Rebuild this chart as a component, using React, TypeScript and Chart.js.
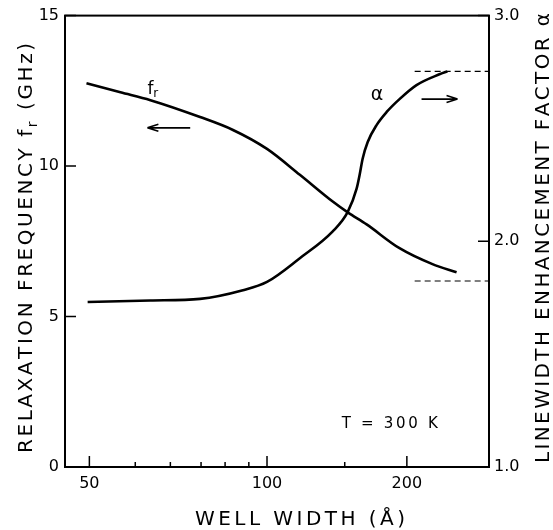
import React, { useEffect, useRef } from 'react';
import { Chart, registerables, LinearScale } from 'chart.js';

Chart.register(...registerables);

// ---- data ----
const widthFr = [49.5, 55.8, 62.3, 75.5, 86.4, 100, 116, 135.7, 146.2, 161, 192, 231.7, 268];
const freqFr = [12.75, 12.45, 12.19, 11.63, 11.2, 10.57, 9.71, 8.82, 8.46, 8.06, 7.27, 6.74, 6.47];

const widthAlpha = [49.7, 62.3, 75.5, 90.1, 100, 116, 135.7, 146.2, 152.9, 155.3, 157.7, 161.9, 169.6, 179, 192, 211.2, 241.5, 253.4];
const alphaVals = [1.731, 1.738, 1.745, 1.783, 1.82, 1.925, 2.044, 2.13, 2.233, 2.295, 2.366, 2.44, 2.515, 2.573, 2.63, 2.692, 2.74, 2.753];

const asymptoteWidths = [209, 330];
const alphaUpper = 2.753;
const alphaLower = 1.824;

const xMajorTicks = [50, 100, 200];
const xMinorTicks = [58.9, 67.2, 75.8, 83.6, 92.4, 144];
const yLeftTicks = [0, 5, 10, 15];
const yRightTicks = [1, 2, 3];

// annotation anchors (data units)
const frLabel = { x: 61.6, y: 12.39 };
const alphaLabel = { x: 170, y: 2.626 };
const leftArrow = { from: 72.6, to: 61.6, y: 11.27 };
const rightArrow = { from: 217.4, to: 269.6, y: 2.63 };
const tempLabel = { x: 182, y: 1.29, text: 'T = 300 K' };

// ---- custom power scale ----
const EXP = 0.345;
const fwd = (v: number) => -Math.pow(v, -EXP);
const inv = (t: number) => Math.pow(-t, -1 / EXP);

class PowerScale extends LinearScale {
  static id = 'power';
  static defaults = LinearScale.defaults;
  getPixelForValue(value: any) {
    if (value === null || value === undefined || isNaN(value)) return NaN;
    const a = fwd(this.min), b = fwd(this.max);
    return this.getPixelForDecimal((fwd(value) - a) / (b - a));
  }
  getValueForPixel(pixel: number) {
    const a = fwd(this.min), b = fwd(this.max);
    return inv(a + this.getDecimalForPixel(pixel) * (b - a));
  }
}
Chart.register(PowerScale as any);

const FAMILY = '"DejaVu Sans", sans-serif';
const WEIGHT = 'normal';

type Seg = { t: string; size: number; dy: number };
function drawSpaced(ctx: CanvasRenderingContext2D, segs: Seg[], cx: number, cy: number, rot: number, target: number) {
  ctx.save();
  ctx.translate(cx, cy);
  ctx.rotate(rot);
  const chars: { ch: string; w: number; size: number; dy: number }[] = [];
  let natural = 0;
  for (const s of segs) {
    ctx.font = `${WEIGHT} ${s.size}px ${FAMILY}`;
    for (const ch of Array.from(s.t)) {
      const w = ctx.measureText(ch).width;
      chars.push({ ch, w, size: s.size, dy: s.dy });
      natural += w;
    }
  }
  const sp = chars.length > 1 ? (target - natural) / (chars.length - 1) : 0;
  let x = -target / 2;
  ctx.textBaseline = 'alphabetic';
  ctx.textAlign = 'left';
  ctx.fillStyle = '#000';
  for (const c of chars) {
    ctx.font = `${WEIGHT} ${c.size}px ${FAMILY}`;
    ctx.fillText(c.ch, x, c.dy);
    x += c.w + sp;
  }
  ctx.restore();
}

function arrow(ctx: CanvasRenderingContext2D, x1: number, x2: number, y: number) {
  const dir = Math.sign(x2 - x1);
  ctx.beginPath();
  ctx.moveTo(x1, y);
  ctx.lineTo(x2, y);
  ctx.moveTo(x2, y);
  ctx.lineTo(x2 - dir * 11, y - 3.5);
  ctx.moveTo(x2, y);
  ctx.lineTo(x2 - dir * 11, y + 3.5);
  ctx.stroke();
}

const decorPlugin = {
  id: 'decor',
  afterDraw(chart: any) {
    const { ctx, chartArea: a, scales } = chart;
    const sx = scales.x, sy = scales.y, sy2 = scales.y2;
    ctx.save();
    ctx.strokeStyle = '#000';
    ctx.lineWidth = 2;
    ctx.strokeRect(a.left, a.top, a.right - a.left, a.bottom - a.top);
    ctx.lineWidth = 1.5;
    ctx.beginPath();
    for (const v of xMajorTicks) {
      const p = sx.getPixelForValue(v);
      ctx.moveTo(p, a.bottom);
      ctx.lineTo(p, a.bottom - 11);
    }
    for (const v of xMinorTicks) {
      const p = sx.getPixelForValue(v);
      ctx.moveTo(p, a.bottom);
      ctx.lineTo(p, a.bottom - 5);
    }
    for (const v of yLeftTicks) {
      const p = sy.getPixelForValue(v);
      ctx.moveTo(a.left, p);
      ctx.lineTo(a.left + 11, p);
    }
    for (const v of yRightTicks) {
      const p = sy2.getPixelForValue(v);
      ctx.moveTo(a.right, p);
      ctx.lineTo(a.right - 11, p);
    }
    ctx.stroke();

    // arrows
    ctx.lineWidth = 1.6;
    arrow(ctx, sx.getPixelForValue(leftArrow.from), sx.getPixelForValue(leftArrow.to), sy.getPixelForValue(leftArrow.y));
    arrow(ctx, sx.getPixelForValue(rightArrow.from), sx.getPixelForValue(rightArrow.to), sy2.getPixelForValue(rightArrow.y));

    // curve labels
    ctx.fillStyle = '#000';
    ctx.textAlign = 'left';
    ctx.textBaseline = 'alphabetic';
    const fx = sx.getPixelForValue(frLabel.x), fy = sy.getPixelForValue(frLabel.y);
    ctx.font = `normal 17px ${FAMILY}`;
    ctx.fillText('f', fx, fy);
    const fw = ctx.measureText('f').width;
    ctx.font = `normal 12px ${FAMILY}`;
    ctx.fillText('r', fx + fw, fy + 3);
    ctx.font = `normal 19px ${FAMILY}`;
    ctx.textAlign = 'center';
    ctx.fillText('α', sx.getPixelForValue(alphaLabel.x), sy2.getPixelForValue(alphaLabel.y));

    // temperature label
    drawSpaced(ctx, [{ t: tempLabel.text, size: 15, dy: 0 }], sx.getPixelForValue(tempLabel.x), sy.getPixelForValue(tempLabel.y), 0, 96);

    // axis titles
    drawSpaced(ctx, [
      { t: 'RELAXATION FREQUENCY f', size: 20, dy: 7.3 },
      { t: 'r', size: 14, dy: 12 },
      { t: ' (GHz)', size: 20, dy: 7.3 },
    ], 25, 248, -Math.PI / 2, 410);
    drawSpaced(ctx, [{ t: 'LINEWIDTH ENHANCEMENT FACTOR α', size: 20, dy: 7.3 }], 542, 238, -Math.PI / 2, 450);
    drawSpaced(ctx, [{ t: 'WELL WIDTH (Å)', size: 20, dy: 0 }], 300, 525, 0, 210);
    ctx.restore();
  },
};

const tickFont = { family: FAMILY, size: 16, weight: WEIGHT as any };

export default function App() {
  const ref = useRef<HTMLCanvasElement>(null);
  useEffect(() => {
    const chart = new Chart(ref.current!, {
      type: 'line',
      data: {
        datasets: [
          {
            data: widthFr.map((w, i) => ({ x: w, y: freqFr[i] })),
            yAxisID: 'y',
            borderColor: '#000',
            borderWidth: 2.6,
            pointRadius: 0,
            cubicInterpolationMode: 'monotone',
          },
          {
            data: widthAlpha.map((w, i) => ({ x: w, y: alphaVals[i] })),
            yAxisID: 'y2',
            borderColor: '#000',
            borderWidth: 2.6,
            pointRadius: 0,
            cubicInterpolationMode: 'monotone',
          },
          {
            data: asymptoteWidths.map((w) => ({ x: w, y: alphaUpper })),
            yAxisID: 'y2',
            borderColor: '#000',
            borderWidth: 1.2,
            borderDash: [6, 4],
            pointRadius: 0,
          },
          {
            data: asymptoteWidths.map((w) => ({ x: w, y: alphaLower })),
            yAxisID: 'y2',
            borderColor: '#000',
            borderWidth: 1.2,
            borderDash: [6, 4],
            pointRadius: 0,
          },
        ],
      } as any,
      options: {
        animation: false,
        responsive: false,
        layout: { padding: { top: 12, left: 0, right: 0, bottom: 0 } },
        plugins: { legend: { display: false }, tooltip: { enabled: false } },
        scales: {
          x: {
            type: 'power' as any,
            min: 46,
            max: 330,
            bounds: 'data',
            grid: { display: false, drawTicks: false },
            border: { display: false },
            afterBuildTicks: (s: any) => {
              s.ticks = xMajorTicks.map((v) => ({ value: v }));
            },
            afterFit: (s: any) => {
              s.height = 63;
            },
            ticks: {
              autoSkip: false,
              maxRotation: 0,
              padding: 7,
              color: '#000',
              font: tickFont,
              callback: (v: any) => String(v),
            },
          } as any,
          y: {
            position: 'left',
            min: 0,
            max: 15,
            grid: { display: false, drawTicks: false },
            border: { display: false },
            afterBuildTicks: (s: any) => {
              s.ticks = yLeftTicks.map((v) => ({ value: v }));
            },
            afterFit: (s: any) => {
              s.width = 65;
            },
            ticks: { padding: 6, color: '#000', font: tickFont },
          },
          y2: {
            position: 'right',
            min: 1,
            max: 3,
            grid: { display: false, drawTicks: false },
            border: { display: false },
            afterBuildTicks: (s: any) => {
              s.ticks = yRightTicks.map((v) => ({ value: v }));
            },
            afterFit: (s: any) => {
              s.width = 64;
            },
            ticks: { padding: 5, color: '#000', font: tickFont, callback: (v: any) => Number(v).toFixed(1) },
          },
        },
      } as any,
      plugins: [decorPlugin],
    });
    return () => chart.destroy();
  }, []);
  return (
    <div style={{ position: 'absolute', left: 0, top: 0, width: 553, height: 530, background: '#fff' }}>
      <canvas ref={ref} width={553} height={530} />
    </div>
  );
}
